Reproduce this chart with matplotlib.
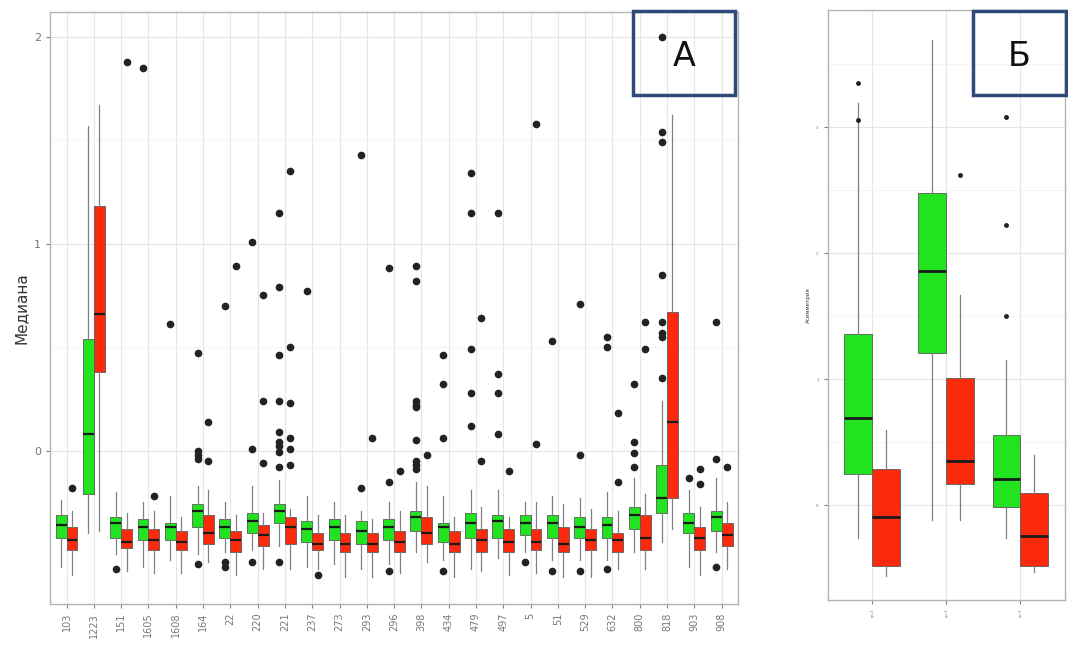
# 导入工具包
import matplotlib.pyplot as plt
import numpy as np
from matplotlib.patches import Rectangle

# ---- 面板 A 的数据 ----
cats = ['103', '1223', '151', '1605', '1608', '164', '22', '220', '221', '237',
        '273', '293', '296', '398', '434', '479', '497', '5', '51', '529',
        '632', '800', '818', '903', '908']

# 绿色组: 下须, Q1, 中位数, Q3, 上须
g_lo = [-0.56, -0.40, -0.50, -0.56, -0.53, -0.50, -0.49, -0.48, -0.46, -0.56, -0.55, -0.57, -0.55,
        -0.49, -0.53, -0.57, -0.52, -0.49, -0.53, -0.53, -0.53, -0.49, -0.44, -0.56, -0.49]
g_q1 = [-0.42, -0.21, -0.42, -0.43, -0.43, -0.37, -0.42, -0.40, -0.35, -0.44, -0.43, -0.45, -0.43,
        -0.39, -0.44, -0.42, -0.42, -0.41, -0.42, -0.42, -0.42, -0.38, -0.30, -0.40, -0.39]
g_med = [-0.36, 0.08, -0.35, -0.37, -0.37, -0.29, -0.37, -0.34, -0.29, -0.38, -0.37, -0.39, -0.37,
         -0.32, -0.37, -0.35, -0.34, -0.35, -0.35, -0.37, -0.36, -0.31, -0.23, -0.35, -0.32]
g_q3 = [-0.31, 0.54, -0.32, -0.33, -0.35, -0.26, -0.33, -0.30, -0.26, -0.34, -0.33, -0.34, -0.33,
        -0.29, -0.35, -0.30, -0.31, -0.31, -0.31, -0.32, -0.32, -0.27, -0.07, -0.30, -0.29]
g_hi = [-0.24, 1.57, -0.20, -0.25, -0.22, -0.17, -0.25, -0.17, -0.14, -0.22, -0.25, -0.29, -0.25,
        -0.15, -0.22, -0.19, -0.19, -0.25, -0.22, -0.23, -0.20, -0.13, 0.24, -0.19, -0.13]
g_out = [[], [], [-0.57], [1.85], [0.61], [0.47, 0.0, -0.02, -0.04, -0.55],
         [0.70, -0.54, -0.56], [1.01, 0.01, -0.54],
         [1.15, 0.79, 0.46, 0.24, 0.09, 0.04, 0.02, -0.005, -0.08, -0.54],
         [0.77], [], [1.43, -0.18], [0.88, -0.15, -0.58],
         [0.89, 0.82, 0.24, 0.22, 0.21, 0.05, -0.05, -0.07, -0.09],
         [0.46, 0.32, 0.06, -0.58], [1.34, 1.15, 0.49, 0.28, 0.12], [1.15, 0.37, 0.28, 0.08],
         [-0.54], [0.53, -0.58], [0.71, -0.02, -0.58], [0.55, 0.50, -0.57],
         [0.32, 0.04, -0.01, -0.08], [2.0, 1.54, 1.49, 0.85, 0.62, 0.57, 0.55, 0.35],
         [-0.13], [0.62, -0.04, -0.56]]

# 红色组
r_lo = [-0.60, -0.39, -0.58, -0.59, -0.59, -0.54, -0.60, -0.57, -0.57, -0.57, -0.61, -0.61, -0.59,
        -0.54, -0.61, -0.58, -0.60, -0.59, -0.61, -0.61, -0.57, -0.57, -0.38, -0.60, -0.57]
r_q1 = [-0.48, 0.38, -0.47, -0.48, -0.48, -0.45, -0.49, -0.46, -0.45, -0.48, -0.49, -0.49, -0.49,
        -0.45, -0.49, -0.49, -0.49, -0.48, -0.49, -0.48, -0.49, -0.48, -0.23, -0.48, -0.46]
r_med = [-0.43, 0.66, -0.44, -0.43, -0.44, -0.40, -0.43, -0.41, -0.37, -0.45, -0.45, -0.45, -0.44,
         -0.40, -0.45, -0.43, -0.44, -0.44, -0.45, -0.43, -0.43, -0.42, 0.14, -0.42, -0.41]
r_q3 = [-0.37, 1.18, -0.38, -0.38, -0.39, -0.31, -0.39, -0.36, -0.32, -0.40, -0.40, -0.40, -0.39,
        -0.32, -0.39, -0.38, -0.38, -0.38, -0.37, -0.38, -0.40, -0.31, 0.67, -0.37, -0.35]
r_hi = [-0.29, 1.67, -0.30, -0.29, -0.32, -0.19, -0.31, -0.30, -0.28, -0.31, -0.31, -0.33, -0.29,
        -0.17, -0.32, -0.27, -0.32, -0.25, -0.26, -0.28, -0.29, -0.21, 1.62, -0.27, -0.25]
r_out = [[-0.18], [], [1.88], [-0.22], [], [0.14, -0.05], [0.89], [0.75, 0.24, -0.06],
         [1.35, 0.50, 0.23, 0.06, 0.01, -0.07], [-0.60], [], [0.06], [-0.10], [-0.02], [],
         [0.64, -0.05], [-0.10], [1.58, 0.03], [], [], [0.18, -0.15], [0.62, 0.49], [],
         [-0.09, -0.16], [-0.08]]

# ---- 面板 Б 的数据 ----
b_cats = ['гр.1', 'гр.2', 'гр.3']
bg_lo = [-0.26, -0.12, -0.26]
bg_q1 = [0.25, 1.21, -0.01]
bg_med = [0.69, 1.86, 0.21]
bg_q3 = [1.36, 2.48, 0.56]
bg_hi = [3.19, 3.69, 1.15]
bg_out = [[3.06, 3.35], [], [3.08, 2.22, 1.50]]
br_lo = [-0.56, -0.12, -0.53]
br_q1 = [-0.48, 0.17, -0.48]
br_med = [-0.09, 0.35, -0.24]
br_q3 = [0.29, 1.01, 0.10]
br_hi = [0.60, 1.67, 0.40]
br_out = [[], [2.62], []]

green = '#22e31f'
red = '#fb2a0c'


def make_stats(lo, q1, med, q3, hi, out):
    # 组装 bxp 需要的统计量
    return [dict(whislo=a, q1=b, med=c, q3=d, whishi=e, fliers=f)
            for a, b, c, d, e, f in zip(lo, q1, med, q3, hi, out)]


def draw_boxes(ax, stats, pos, width, color, msize, mlw):
    ax.bxp(stats, positions=pos, widths=width, patch_artist=True, showcaps=False,
           boxprops=dict(facecolor=color, edgecolor='#5a5a5a', linewidth=0.6),
           medianprops=dict(color='#1a1a1a', linewidth=mlw),
           whiskerprops=dict(color='#808080', linewidth=0.9),
           flierprops=dict(marker='o', markerfacecolor='#222222', markeredgecolor='#222222',
                           markersize=msize),
           manage_ticks=False, zorder=3)


def style_ax(ax):
    # 模仿 ggplot 的 theme_light
    ax.set_facecolor('white')
    for s in ax.spines.values():
        s.set_color('#b3b3b3')
        s.set_linewidth(1.0)
    ax.grid(True, which='major', color='#e6e6e6', linewidth=0.8, zorder=0)
    ax.grid(True, which='minor', axis='y', color='#f2f2f2', linewidth=0.6, zorder=0)
    ax.set_axisbelow(True)
    ax.tick_params(colors='#808080', labelcolor='#777777', length=3, width=0.8)


fig = plt.figure(figsize=(10.68, 6.57), dpi=100)

# ---- 面板 A ----
axA = fig.add_axes([0.047, 0.081, 0.644, 0.901])
x = np.arange(len(cats))
draw_boxes(axA, make_stats(g_lo, g_q1, g_med, g_q3, g_hi, g_out), x - 0.2, 0.4, green, 4.5, 1.6)
draw_boxes(axA, make_stats(r_lo, r_q1, r_med, r_q3, r_hi, r_out), x + 0.2, 0.4, red, 4.5, 1.6)
style_ax(axA)
axA.set_xlim(-0.6, len(cats) - 0.4)
axA.set_ylim(-0.74, 2.12)
axA.set_xticks(x)
axA.set_xticklabels(cats, rotation=90, fontsize=7)
axA.set_yticks([0, 1, 2])
axA.set_yticklabels(['0', '1', '2'], fontsize=8)
axA.set_yticks([0.5, 1.5], minor=True)
axA.tick_params(which='minor', length=0)
axA.set_ylabel('Медиана', fontsize=11, color='#333333')

# ---- 面板 Б ----
axB = fig.add_axes([0.775, 0.087, 0.222, 0.898])
xb = np.arange(1, len(b_cats) + 1)
draw_boxes(axB, make_stats(bg_lo, bg_q1, bg_med, bg_q3, bg_hi, bg_out), xb - 0.1875, 0.375, green, 2.5, 2.0)
draw_boxes(axB, make_stats(br_lo, br_q1, br_med, br_q3, br_hi, br_out), xb + 0.1875, 0.375, red, 2.5, 2.0)
style_ax(axB)
axB.set_xlim(0.4, 3.6)
axB.set_ylim(-0.75, 3.93)
axB.set_xticks(xb)
axB.set_xticklabels(b_cats, rotation=90, fontsize=3)
axB.set_yticks([0, 1, 2, 3])
axB.set_yticklabels(['0', '1', '2', '3'], fontsize=3)
axB.set_yticks([0.5, 1.5, 2.5, 3.5], minor=True)
axB.tick_params(which='minor', length=0)
axB.set_ylabel('Асимметрия', fontsize=4, color='#333333', labelpad=4)

# ---- 标签框 A 与 Б ----
for (x0, y0, w, h), letter in [((0.593, 0.855, 0.0955, 0.129), 'А'),
                               ((0.911, 0.855, 0.087, 0.129), 'Б')]:
    fig.patches.append(Rectangle((x0, y0), w, h, transform=fig.transFigure,
                                 facecolor='none', edgecolor='#2f4a78', linewidth=2.5, zorder=6))
    fig.text(x0 + w / 2, y0 + h / 2 - 0.005, letter, ha='center', va='center',
             fontsize=24, color='#111111', zorder=7)

plt.savefig('out.png', dpi=100)  # 保存图像
